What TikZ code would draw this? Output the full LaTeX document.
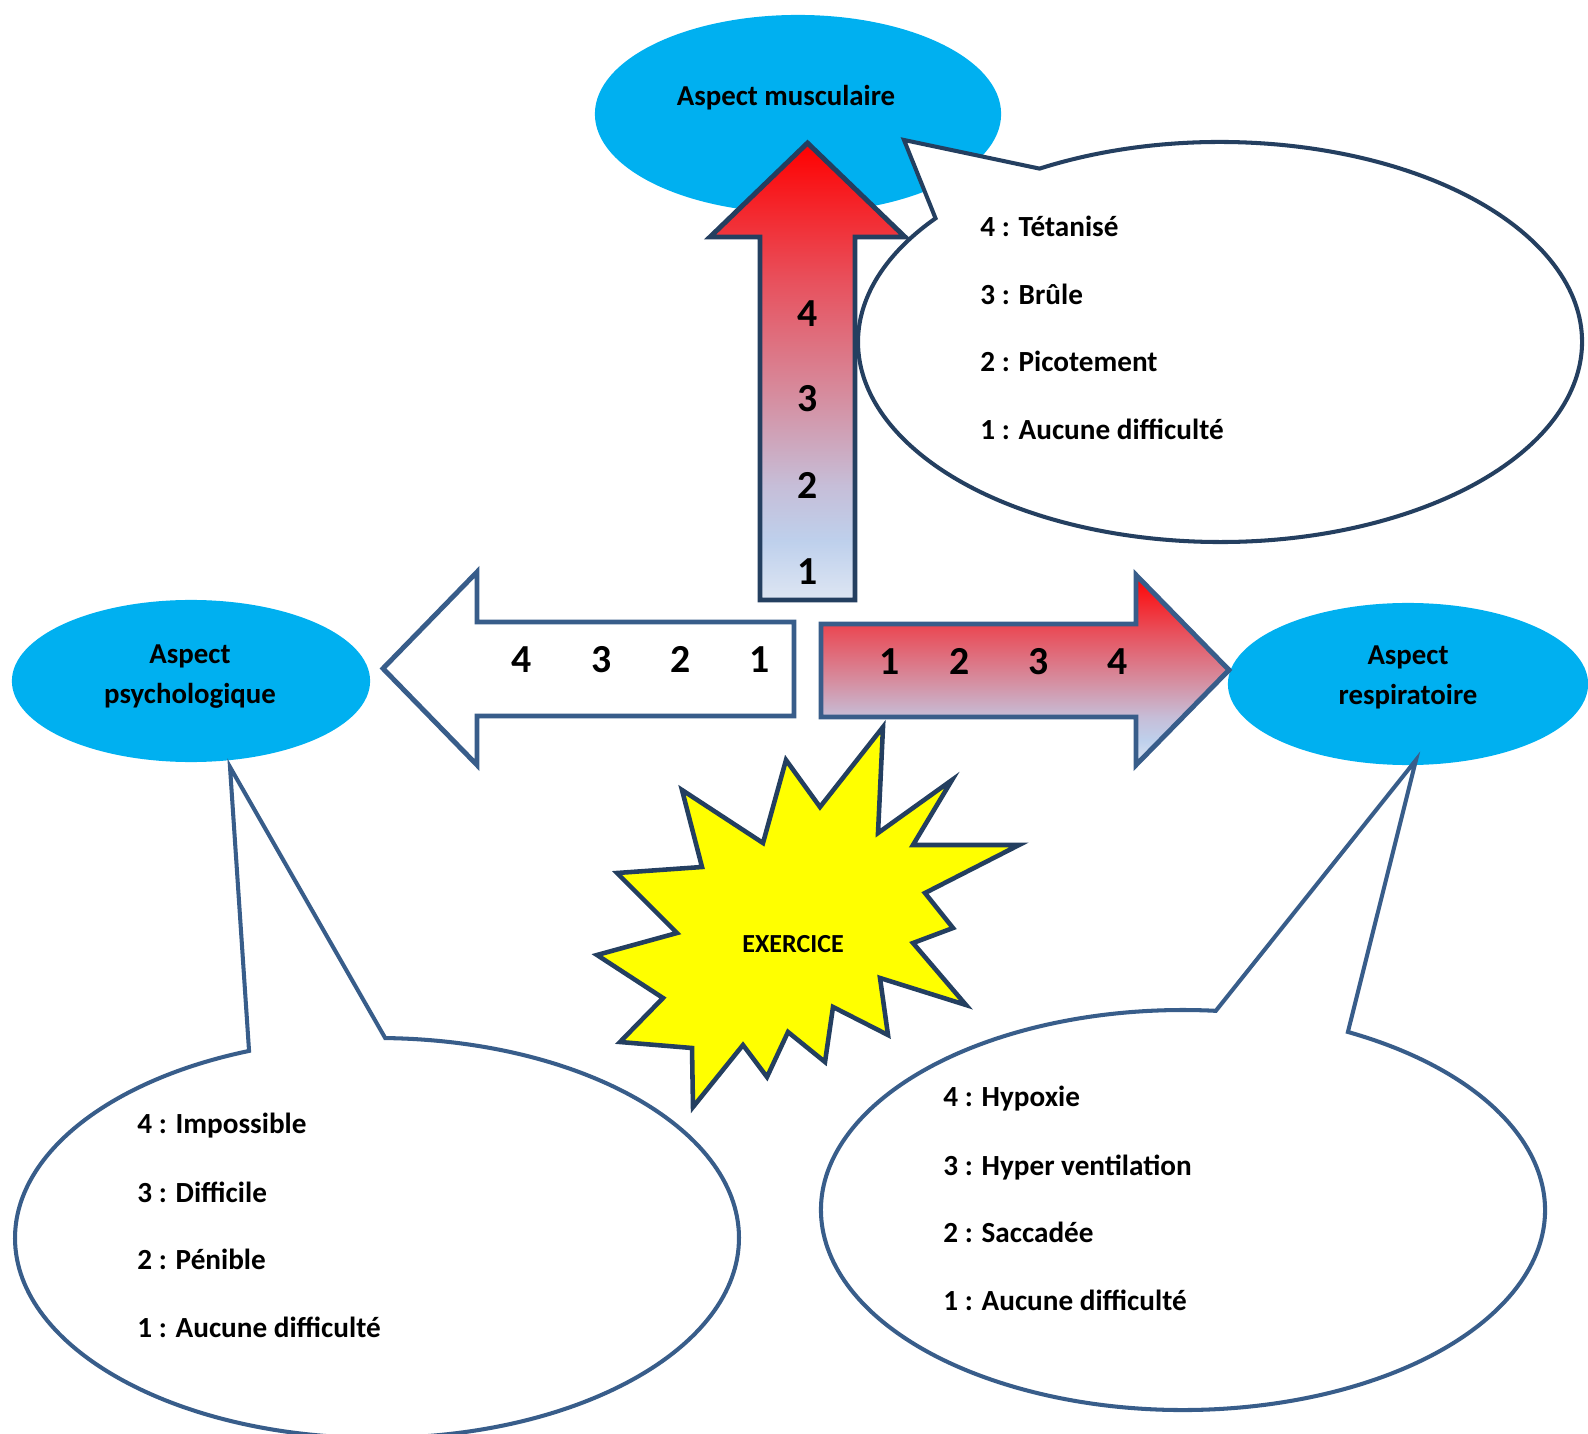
\documentclass[tikz,border=0pt]{standalone}
\usepackage{fontspec}
\setmainfont{Carlito}
\usepackage{tikz}
\usetikzlibrary{shapes.geometric}
\usetikzlibrary{calc}

\definecolor{cyanaspect}{HTML}{00B0F0}
\definecolor{bordfonce}{HTML}{243F60}
\definecolor{bordmoyen}{HTML}{385D8A}
\definecolor{bas}{HTML}{DEE6F3}
\definecolor{bleudeux}{HTML}{BED0EC}
\definecolor{lavande}{HTML}{C6BED8}
\definecolor{rose}{HTML}{D68C9E}
\definecolor{rougedeux}{HTML}{E8505C}
\definecolor{etoile}{HTML}{FFFF00}

\pgfdeclareverticalshading{degrade}{100bp}{color(0bp)=(bas); color(25bp)=(bas); color(31.5bp)=(bleudeux); color(37.5bp)=(lavande); color(47.5bp)=(rose); color(60bp)=(rougedeux); color(75bp)=(red); color(100bp)=(red)}

\begin{document}
\begin{tikzpicture}[x=0.01cm, y=-0.01cm,
    aspect/.style={ellipse, fill=cyanaspect, inner sep=0pt},
    titre/.style={font=\fontsize{8.2}{10}\selectfont\bfseries, anchor=base},
    chiffre/.style={font=\fontsize{11.3}{13}\selectfont\bfseries, anchor=base},
    liste/.style={font=\fontsize{8.3}{10}\selectfont\bfseries, anchor=base west},
    bulle/.style={draw=bordmoyen, line width=1.15pt, fill=white},
    fleche/.style={line width=1.4pt, line join=miter}]
        \useasboundingbox (0,0) rectangle (1588,1434);

        % aspect musculaire
        \node[aspect, minimum width=4.06cm, minimum height=1.98cm] (musc) at (798,114) {};
        \draw [bulle, draw=bordfonce] ($(1220,342)+(240.1:362 and 200)$) arc [start angle=240.1, end angle=578.2, x radius=362, y radius=200] -- (904,140) -- cycle;
        \shadedraw [fleche, draw=bordfonce, shading=degrade] (760,600) -- (760,237) -- (710,237) -- (807.5,143) -- (905,237) -- (855,237) -- (855,600) -- cycle;

        % les deux autres aspects
        \node[aspect, minimum width=3.58cm, minimum height=1.62cm] (psy) at (191,681) {};
        \node[aspect, minimum width=3.60cm, minimum height=1.62cm] (resp) at (1408,684) {};

        \draw [fleche, draw=bordmoyen, fill=white] (794,622) -- (477,622) -- (477,572) -- (383,668.5) -- (477,765) -- (477,716) -- (794,716) -- cycle;
        \shadedraw [fleche, draw=bordmoyen, shading=degrade] (821,624) -- (1136,624) -- (1136,575) -- (1229,670) -- (1136,765) -- (1136,717) -- (821,717) -- cycle;

        \draw [bulle] ($(377,1238)+(-88.7:362 and 200)$) arc [start angle=-88.7, end angle=249.3, x radius=362, y radius=200] -- (230,767) -- cycle;
        \draw [bulle] ($(1183,1210)+(-62.9:362 and 200)$) arc [start angle=-62.9, end angle=275.2, x radius=362, y radius=200] -- (1416,760) -- cycle;

        % exercice
        \draw [draw=bordfonce, line width=1.3pt, fill=etoile] (682,790) -- (763,843) -- (786,760) -- (820,807) -- (883,727) -- (878,833) -- (952,780) -- (913,845) -- (1019,845) -- (925,893) -- (953,928) -- (913,943) -- (966,1005) -- (880,978) -- (888,1035) -- (833,1007) -- (825,1062) -- (788,1032) -- (767,1077) -- (743,1045) -- (693,1107) -- (692,1048) -- (620,1042) -- (663,998) -- (597,955) -- (677,933) -- (617,873) -- (702,867) -- cycle;
        \node[font=\fontsize{7.4}{9}\selectfont\bfseries, anchor=base] (exo) at (793,952) {EXERCICE};

        \node[titre] (musclbl) at (786,106) {Aspect musculaire};
        \node[titre] (psylbla) at (190,663) {Aspect};
        \node[titre] (psylblb) at (190,703) {psychologique};
        \node[titre] (resplbla) at (1408,665) {Aspect};
        \node[titre] (resplblb) at (1408,705) {respiratoire};

        \node[chiffre] (hautquatre) at (808,327) {4};
        \node[chiffre] (hauttrois) at (808,412) {3};
        \node[chiffre] (hautdeux) at (808,499) {2};
        \node[chiffre] (hautun) at (808,585) {1};

        \node[chiffre] (gauchequatre) at (522,672.5) {4};
        \node[chiffre] (gauchetrois) at (602,672.5) {3};
        \node[chiffre] (gauchedeux) at (681,672.5) {2};
        \node[chiffre] (gaucheun) at (760,672.5) {1};

        \node[chiffre] (droiteun) at (890,675) {1};
        \node[chiffre] (droitedeux) at (960,675) {2};
        \node[chiffre] (droitetrois) at (1039,675) {3};
        \node[chiffre] (droitequatre) at (1118,675) {4};

        \node[liste] (muscquatre) at (968,237) {4 : Tétanisé};
        \node[liste] (musctrois) at (968,305) {3 : Brûle};
        \node[liste] (muscdeux) at (968,372) {2 : Picotement};
        \node[liste] (muscun) at (968,440) {1 : Aucune difficulté};

        \node[liste] (psyquatre) at (125,1133) {4 : Impossible};
        \node[liste] (psytrois) at (125,1202) {3 : Difficile};
        \node[liste] (psydeux) at (125,1269) {2 : Pénible};
        \node[liste] (psyun) at (125,1337) {1 : Aucune difficulté};

        \node[liste] (respquatre) at (931,1106) {4 : Hypoxie};
        \node[liste] (resptrois) at (931,1175) {3 : Hyper ventilation};
        \node[liste] (respdeux) at (931,1242) {2 : Saccadée};
        \node[liste] (respun) at (931,1310) {1 : Aucune difficulté};
    \end{tikzpicture}
\end{document}
